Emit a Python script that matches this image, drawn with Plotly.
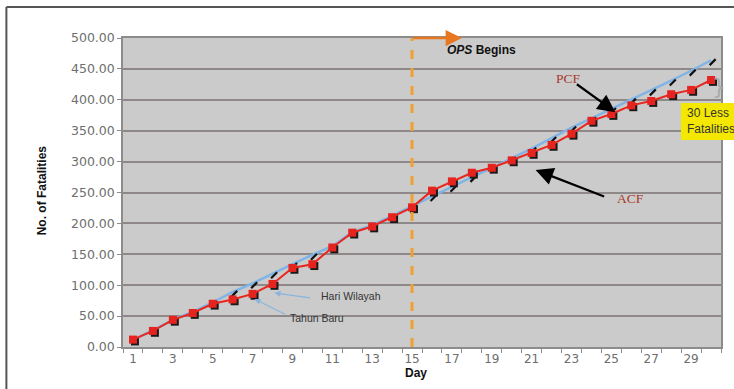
import plotly.graph_objects as go

days = list(range(1, 31))
acf = [12, 26, 44, 55, 70, 77, 86, 102, 128, 134, 161, 185, 195, 210, 226,
       253, 268, 282, 290, 302, 314, 327, 345, 366, 377, 391, 398, 409, 416, 432]
pcf = [12, 27, 44, 57, 72, 89, 103, 119, 134, 149, 163, 186, 197, 212, 228,
       244, 259, 275, 290, 305, 321, 338, 355, 370, 385, 400, 415, 431, 447, 464]
x_ticks = list(range(1, 30, 2))
y_ticks = list(range(0, 501, 50))
ops_day = 15

fig = go.Figure()

# PCF (blue) line with black dash markers
fig.add_trace(go.Scatter(x=days, y=pcf, mode="lines", line=dict(color="#80b4e6", width=2.5),
                         hoverinfo="skip"))
fig.add_trace(go.Scatter(x=[d + 0.08 for d in days], y=[v - 3 for v in pcf], mode="markers",
                         marker=dict(symbol="line-ne", size=6, line=dict(color="#111", width=2.2)),
                         hoverinfo="skip"))
# ACF shadow
fig.add_trace(go.Scatter(x=[d + 0.1 for d in days], y=[v - 3 for v in acf], mode="markers",
                         marker=dict(symbol="square", size=8, color="#1a1a1a"),
                         hoverinfo="skip"))
# ACF (red)
fig.add_trace(go.Scatter(x=days, y=acf, mode="lines+markers", line=dict(color="#e8271f", width=2),
                         marker=dict(symbol="square", size=8, color="#e52420"),
                         hoverinfo="skip"))

fig.update_layout(
    width=734, height=389,
    margin=dict(l=123, r=11, t=38, b=42),
    paper_bgcolor="white",
    plot_bgcolor="#cbcbcb",
    showlegend=False,
    font=dict(family="DejaVu Sans", size=12, color="#6e6e6e"),
)
fig.update_xaxes(
    range=[0.5, 30.5], tickmode="array", tickvals=x_ticks, ticktext=[str(t) for t in x_ticks],
    ticks="", showgrid=False, zeroline=False,
    showline=True, linecolor="#8c8c8c", linewidth=1.5, mirror=True,
    tickfont=dict(family="DejaVu Sans", size=12, color="#6e6e6e"),
    minor=dict(tickmode="linear", tick0=0.5, dtick=1, ticks="outside", ticklen=4,
               tickcolor="#8c8c8c", showgrid=False),
)
fig.update_yaxes(
    range=[0, 500], tickmode="array", tickvals=y_ticks, ticktext=[f"{v:.2f}" for v in y_ticks],
    ticks="outside", ticklen=4, tickcolor="#8c8c8c",
    showgrid=True, gridcolor="#8e8888", gridwidth=1.5, zeroline=False,
    showline=True, linecolor="#8c8c8c", linewidth=1.5, mirror=True,
    tickfont=dict(family="DejaVu Sans", size=12.5, color="#6e6e6e"),
)

shapes = [
    dict(type="line", xref="x", yref="y", x0=ops_day, x1=ops_day, y0=0, y1=500,
         line=dict(color="#f0a030", width=3, dash="dash")),
    # yellow box
    dict(type="rect", xref="paper", yref="paper", x0=0.933, x1=1.03, y0=0.67, y1=0.79,
         fillcolor="#f4e800", line=dict(width=0)),
    # outer frame
    dict(type="line", xref="paper", yref="paper", x0=-0.195, x1=1.03, y0=1.1, y1=1.1,
         line=dict(color="#555", width=2)),
    dict(type="line", xref="paper", yref="paper", x0=-0.195, x1=-0.195, y0=1.1, y1=-0.14,
         line=dict(color="#555", width=2)),
]
fig.update_layout(shapes=shapes)

ann = []
# OPS arrow
ann.append(dict(x=17.5, y=500, xref="x", yref="y", ax=-50, ay=0, text="", showarrow=True,
                arrowhead=2, arrowsize=1.3, arrowwidth=2.5, arrowcolor="#e87722"))
ann.append(dict(x=18.5, y=481, xref="x", yref="y", text="<b><i>OPS</i> Begins</b>", showarrow=False,
                font=dict(family="Liberation Sans", size=12, color="#111")))
# PCF / ACF
ann.append(dict(x=22.85, y=435, xref="x", yref="y", text="PCF", showarrow=False,
                font=dict(family="Liberation Serif", size=13.5, color="#a83a2c")))
ann.append(dict(x=25.2, y=380, xref="x", yref="y", ax=-40, ay=-29, text="", showarrow=True,
                arrowhead=2, arrowsize=1.6, arrowwidth=2.2, arrowcolor="#000"))
ann.append(dict(x=25.95, y=239.5, xref="x", yref="y", text="ACF", showarrow=False,
                font=dict(family="Liberation Serif", size=13.5, color="#a83a2c")))
ann.append(dict(x=21.2, y=286.4, xref="x", yref="y", ax=70, ay=27, text="", showarrow=True,
                arrowhead=2, arrowsize=1.6, arrowwidth=2.2, arrowcolor="#000"))
# Holidays
ann.append(dict(x=8.1, y=87.4, xref="x", yref="y", ax=37, ay=5, text="", showarrow=True,
                arrowhead=2, arrowsize=1, arrowwidth=1.2, arrowcolor="#8ab4dc"))
ann.append(dict(x=11.95, y=82.5, xref="x", yref="y", text="Hari Wilayah", showarrow=False,
                font=dict(family="Liberation Sans", size=10.5, color="#333")))
ann.append(dict(x=7.1, y=77.7, xref="x", yref="y", ax=32, ay=16, text="", showarrow=True,
                arrowhead=2, arrowsize=1, arrowwidth=1.2, arrowcolor="#8ab4dc"))
ann.append(dict(x=10.25, y=47, xref="x", yref="y", text="Tahun Baru", showarrow=False,
                font=dict(family="Liberation Sans", size=10.5, color="#333")))
# 30 Less Fatalities
ann.append(dict(x=0.94, y=0.73, xref="paper", yref="paper", xanchor="left", yanchor="middle",
                text="30 Less<br>Fatalities", showarrow=False, align="left",
                font=dict(family="Liberation Sans", size=12, color="#333")))
# brace
ann.append(dict(x=1.012, y=0.89, xref="paper", yref="paper", text="}", showarrow=False,
                font=dict(family="DejaVu Sans", size=22, color="#aaaaaa")))
# axis titles
ann.append(dict(x=-0.15, y=0.508, xref="paper", yref="paper", text="<b>No. of Fatalities</b>",
                textangle=-90, showarrow=False,
                font=dict(family="Liberation Sans", size=12, color="#111")))
ann.append(dict(x=0.49, y=-0.113, xref="paper", yref="paper", text="<b>Day</b>", showarrow=False,
                font=dict(family="Liberation Sans", size=12, color="#111")))
fig.update_layout(annotations=ann)

fig.write_html("out.html")
